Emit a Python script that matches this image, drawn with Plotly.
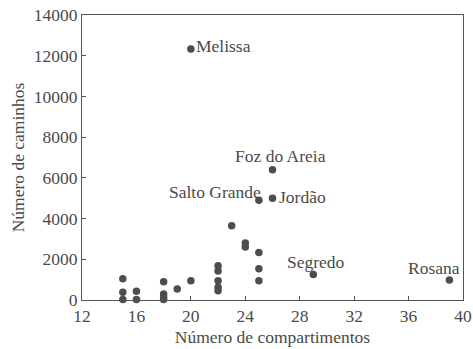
import plotly.graph_objects as go

# Reservoirs: number of compartments vs number of paths
compartimentos = [15, 15, 15, 16, 16, 18, 18, 18, 18, 19, 20,
                  22, 22, 22, 22, 22, 23, 24, 24, 25, 25, 25,
                  20, 26, 25, 26, 29, 39]
caminhos = [1050, 380, 30, 430, 30, 900, 300, 150, 30, 540, 950,
            1680, 1420, 950, 630, 450, 3650, 2800, 2600, 2330, 1540, 950,
            12330, 6400, 4900, 5000, 1250, 980]

# Named reservoirs (index into the arrays above)
nomes = ["Melissa", "Foz do Areia", "Salto Grande", "Jordão", "Segredo", "Rosana"]
indices = [22, 23, 24, 25, 26, 27]

x_ticks = [12, 16, 20, 24, 28, 32, 36, 40]
y_ticks = [0, 2000, 4000, 6000, 8000, 10000, 12000, 14000]
y_tick_text = ["0", "2000", "4000", "6000", "8000", "10000", "12000", "14000"]

# label placement: (xanchor, xshift, yshift)
placement = [("left", 3, 3), ("center", 8, 14), ("right", 4, 8),
             ("left", 4, 1), ("center", 3, 13), ("center", -15, 12)]

ink = "#4a4a4a"
font = dict(family="Liberation Serif", size=17.5, color=ink)

fig = go.Figure(go.Scatter(
    x=compartimentos, y=caminhos, mode="markers",
    marker=dict(size=7.5, color="#4d4d4d"),
    cliponaxis=False, showlegend=False,
))

for nome, i, (anc, dx, dy) in zip(nomes, indices, placement):
    fig.add_annotation(x=compartimentos[i], y=caminhos[i], text=nome,
                       showarrow=False, xanchor=anc, yanchor="middle",
                       xshift=dx, yshift=dy, font=font)

axis_common = dict(showgrid=False, zeroline=False, showline=True, mirror=True,
                   linecolor="#555555", linewidth=1.2, ticks="inside",
                   ticklen=4, tickcolor="#555555", tickfont=font,
                   automargin=False)

fig.update_xaxes(range=[12, 40], tickvals=x_ticks, ticklabelstandoff=0,
                 title=dict(text="Número de compartimentos", font=font, standoff=5),
                 **axis_common)
fig.update_yaxes(range=[0, 14000], tickvals=y_ticks, ticktext=y_tick_text,
                 ticklabelstandoff=0,
                 title=dict(text="Número de caminhos", font=font, standoff=4),
                 **axis_common)

fig.update_layout(width=473, height=349,
                  margin=dict(l=82, r=10, t=15, b=49),
                  plot_bgcolor="white", paper_bgcolor="white", font=font)

fig.write_html("out.html")
